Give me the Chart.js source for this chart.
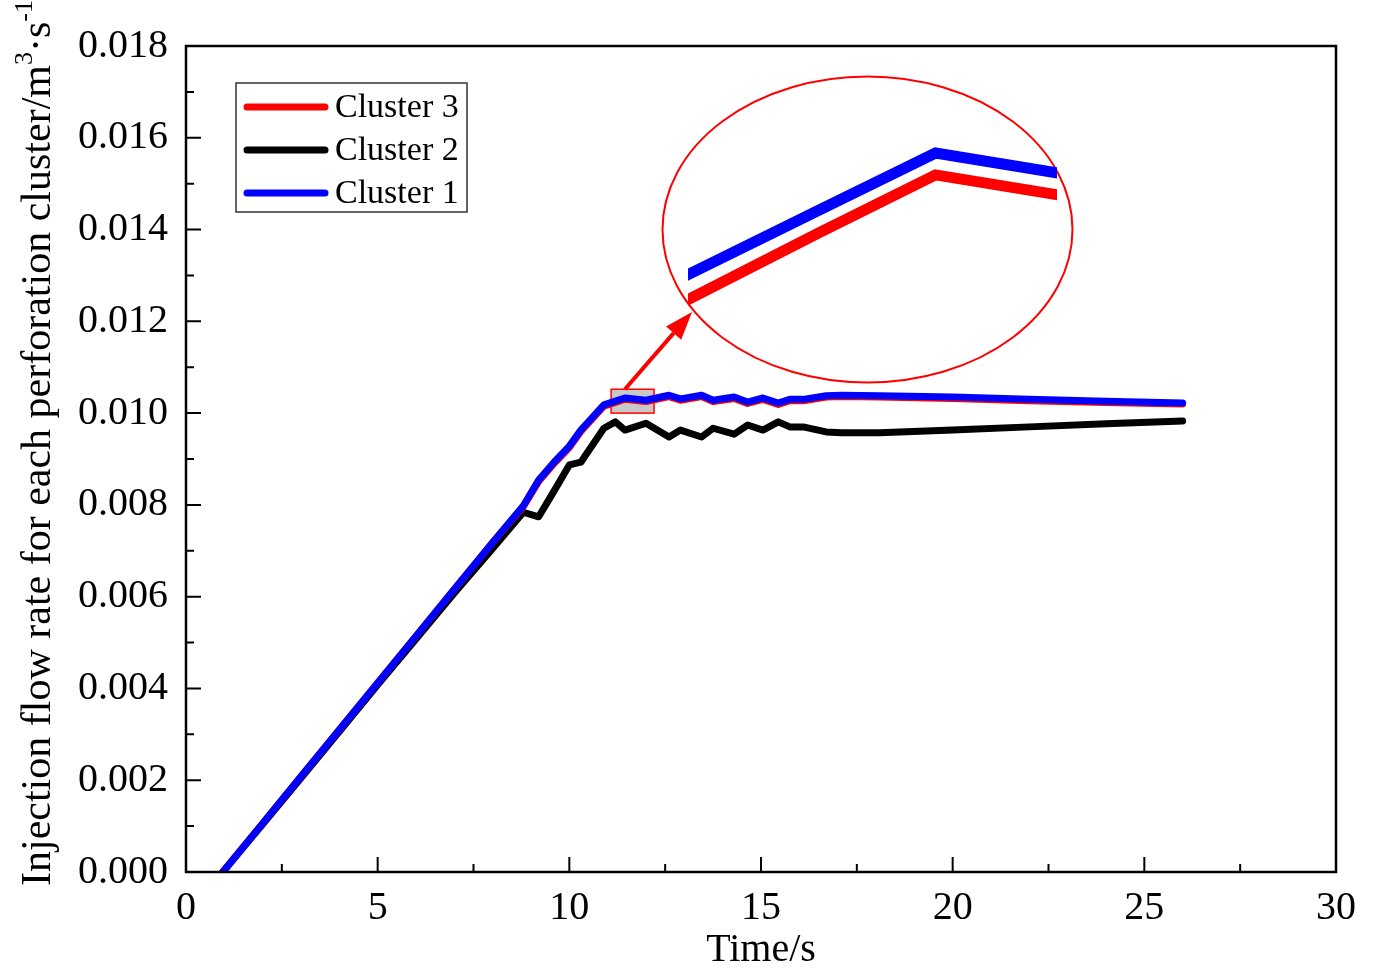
<!DOCTYPE html>
<html>
<head>
<meta charset="utf-8">
<script src="https://cdn.jsdelivr.net/npm/chart.js@4.4.1/dist/chart.umd.min.js"></script>
<style>
  html, body { margin: 0; padding: 0; background: #fff; }
  #wrap { position: relative; width: 1374px; height: 970px; }
  #main { position: absolute; left: 0; top: 0; }
  #zoom { position: absolute; left: 688px; top: 76px; }
</style>
</head>
<body>
<div id="wrap">
  <canvas id="main" width="1374" height="970"></canvas>
  <canvas id="zoom" width="369" height="307"></canvas>
</div>
<script>
// --- DATI ---
const tempi = [0.96, 2, 3, 4, 5, 6, 7, 8, 8.8, 9.2, 9.6, 10.0, 10.3, 10.9, 11.2, 11.45, 12.0, 12.6, 12.9,
  13.45, 13.75, 14.3, 14.65, 15.05, 15.45, 15.75, 16.1, 16.7, 17.1, 18.1, 20, 22, 24, 26];

const cluster3 = [0, 0.00106, 0.00208, 0.0031, 0.00412, 0.00514, 0.00616, 0.00718, 0.00796, 0.00851, 0.0089,
  0.00925, 0.0096, 0.01015, 0.010235, 0.010304, 0.010254, 0.01036, 0.01028, 0.01036, 0.01025, 0.01032,
  0.01021, 0.0103, 0.01019, 0.01027, 0.01027, 0.01035, 0.01036, 0.01035, 0.01032, 0.01027, 0.01023, 0.0102];

const cluster2 = [0, 0.00104, 0.00205, 0.00306, 0.00408, 0.00508, 0.00608, 0.00705, 0.00784, 0.00774, 0.0083,
  0.00887, 0.00893, 0.00967, 0.00981, 0.00963, 0.00978, 0.00948, 0.00963, 0.00948, 0.00967, 0.00954,
  0.00974, 0.00963, 0.00981, 0.0097, 0.0097, 0.00959, 0.00957, 0.00957, 0.00963, 0.0097, 0.00977, 0.00983];

const cluster1 = [0, 0.00106, 0.00208, 0.0031, 0.00412, 0.00514, 0.00616, 0.00718, 0.00798, 0.00854, 0.00893,
  0.00928, 0.00963, 0.01018, 0.010262, 0.01033, 0.01028, 0.01039, 0.01031, 0.01039, 0.01028, 0.01035,
  0.01024, 0.01033, 0.01022, 0.0103, 0.0103, 0.01038, 0.01039, 0.01038, 0.01035, 0.0103, 0.01026, 0.01022];

const xTicks = [0, 5, 10, 15, 20, 25, 30];
const yTicks = [0, 0.002, 0.004, 0.006, 0.008, 0.010, 0.012, 0.014, 0.016, 0.018];

// zona ingrandita (rettangolo grigio)
const zonaX = [11.09, 12.21];
const zonaY = [0.0100, 0.01052];

const FONT = "'Liberation Serif', 'Times New Roman', serif";
const punti = arr => tempi.map((t, i) => ({ x: t, y: arr[i] }));

const serie = [
  { label: 'Cluster 3', data: cluster3, color: '#ff0000', order: 1 },
  { label: 'Cluster 2', data: cluster2, color: '#000000', order: 2 },
  { label: 'Cluster 1', data: cluster1, color: '#0000ff', order: 0 }
];

// --- plugin: cornice, tacche interne, legenda, titolo asse y, zoom ---
const decorazioni = {
  id: 'decorazioni',
  beforeDatasetsDraw(chart) {
    const { ctx, scales: { x, y } } = chart;
    // rettangolo grigio della zona ingrandita
    const x0 = x.getPixelForValue(zonaX[0]), x1 = x.getPixelForValue(zonaX[1]);
    const y0 = y.getPixelForValue(zonaY[1]), y1 = y.getPixelForValue(zonaY[0]);
    ctx.save();
    ctx.fillStyle = '#c8c8c8';
    ctx.fillRect(x0, y0, x1 - x0, y1 - y0);
    ctx.strokeStyle = '#ff0000';
    ctx.lineWidth = 1.5;
    ctx.strokeRect(x0, y0, x1 - x0, y1 - y0);
    ctx.restore();
  },
  afterDatasetsDraw(chart) {
    const { ctx, chartArea: a, scales: { x, y } } = chart;
    ctx.save();
    ctx.strokeStyle = '#000';
    ctx.lineWidth = 2.5;
    ctx.strokeRect(a.left, a.top, a.right - a.left, a.bottom - a.top);

    // tacche (maggiori e minori) verso l'interno
    ctx.lineWidth = 2;
    ctx.beginPath();
    for (let v = 0; v <= 30; v += 2.5) {
      const px = x.getPixelForValue(v);
      const len = (v % 5 === 0) ? 15 : 8;
      ctx.moveTo(px, a.bottom);
      ctx.lineTo(px, a.bottom - len);
    }
    for (let i = 0; i <= 18; i++) {
      const py = y.getPixelForValue(i * 0.001);
      const len = (i % 2 === 0) ? 15 : 8;
      ctx.moveTo(a.left, py);
      ctx.lineTo(a.left + len, py);
    }
    ctx.stroke();

    // ellisse dello zoom
    ctx.strokeStyle = '#ff0000';
    ctx.lineWidth = 2;
    ctx.beginPath();
    ctx.ellipse(867.5, 229.5, 205, 153, 0, 0, Math.PI * 2);
    ctx.stroke();

    // freccia dal rettangolo all'ellisse
    const tx = x.getPixelForValue(11.45), ty = y.getPixelForValue(zonaY[1]);
    const hx = 692, hy = 312;
    const ang = Math.atan2(hy - ty, hx - tx);
    const hl = 28, hw = 10;
    const bx = hx - hl * Math.cos(ang), by = hy - hl * Math.sin(ang);
    ctx.lineWidth = 4;
    ctx.beginPath();
    ctx.moveTo(tx, ty);
    ctx.lineTo(bx, by);
    ctx.stroke();
    ctx.fillStyle = '#ff0000';
    ctx.beginPath();
    ctx.moveTo(hx, hy);
    ctx.lineTo(bx + hw * Math.sin(ang), by - hw * Math.cos(ang));
    ctx.lineTo(bx - hw * Math.sin(ang), by + hw * Math.cos(ang));
    ctx.closePath();
    ctx.fill();
    ctx.restore();
  },
  afterDraw(chart) {
    const { ctx } = chart;
    ctx.save();
    // legenda con riquadro
    ctx.strokeStyle = '#333';
    ctx.lineWidth = 1.5;
    ctx.strokeRect(236, 83, 231, 129);
    ctx.font = '34px ' + FONT;
    ctx.textBaseline = 'middle';
    ctx.textAlign = 'left';
    serie.forEach((s, i) => {
      const yy = 107 + i * 43;
      ctx.strokeStyle = s.color;
      ctx.lineWidth = 7;
      ctx.lineCap = 'round';
      ctx.beginPath();
      ctx.moveTo(247, yy);
      ctx.lineTo(325, yy);
      ctx.stroke();
      ctx.fillStyle = '#000';
      ctx.fillText(s.label, 335, yy + 1);
    });

    // titolo asse y con apici
    ctx.translate(50, 886);
    ctx.rotate(-Math.PI / 2);
    ctx.textBaseline = 'alphabetic';
    ctx.fillStyle = '#000';
    let pos = 0;
    const parte = (txt, size, dy) => {
      ctx.font = size + 'px ' + FONT;
      ctx.fillText(txt, pos, dy);
      pos += ctx.measureText(txt).width;
    };
    parte('Injection flow rate for each perforation cluster/m', 42, 0);
    parte('3', 26, -18);
    parte('\u00b7s', 42, 0);
    parte('-1', 26, -18);
    ctx.restore();
  }
};

// --- GRAFICO PRINCIPALE ---
new Chart(document.getElementById('main'), {
  type: 'line',
  data: {
    datasets: serie.map(s => ({
      label: s.label,
      data: punti(s.data),
      borderColor: s.color,
      borderWidth: 7,
      borderCapStyle: 'round',
      borderJoinStyle: 'round',
      pointRadius: 0,
      tension: 0,
      fill: false,
      order: s.order
    }))
  },
  options: {
    responsive: false,
    animation: false,
    layout: { padding: { top: 46, right: 38, left: 0, bottom: 0 } },
    plugins: { legend: { display: false }, tooltip: { enabled: false } },
    scales: {
      x: {
        type: 'linear', min: 0, max: 30,
        afterBuildTicks: s => { s.ticks = xTicks.map(v => ({ value: v })); },
        afterFit: s => { s.height = 98; },
        grid: { display: false, drawTicks: false },
        border: { display: false },
        ticks: { color: '#000', padding: 12, font: { family: FONT, size: 40 }, maxRotation: 0 },
        title: { display: true, text: 'Time/s', color: '#000', font: { family: FONT, size: 40, lineHeight: 1 }, padding: 0 }
      },
      y: {
        min: 0, max: 0.018,
        afterBuildTicks: s => { s.ticks = yTicks.map(v => ({ value: v })); },
        afterFit: s => { s.width = 186; },
        grid: { display: false, drawTicks: false },
        border: { display: false },
        ticks: { color: '#000', padding: 18, font: { family: FONT, size: 40 }, callback: v => v.toFixed(3) }
      }
    }
  },
  plugins: [decorazioni]
});

// --- INSERTO INGRANDITO (solo Cluster 3 e Cluster 1) ---
new Chart(document.getElementById('zoom'), {
  type: 'line',
  data: {
    datasets: serie.filter(s => s.label !== 'Cluster 2').map(s => ({
      data: punti(s.data),
      borderColor: s.color,
      borderWidth: 11,
      borderCapStyle: 'butt',
      borderJoinStyle: 'miter',
      pointRadius: 0,
      tension: 0,
      clip: 0,
      order: s.order
    }))
  },
  options: {
    responsive: false,
    animation: false,
    layout: { padding: 0 },
    plugins: { legend: { display: false }, tooltip: { enabled: false } },
    scales: {
      x: { type: 'linear', min: 10.92, max: 11.71, display: false },
      y: { min: 0.0100566, max: 0.0104216, display: false }
    }
  }
});
</script>
</body>
</html>
